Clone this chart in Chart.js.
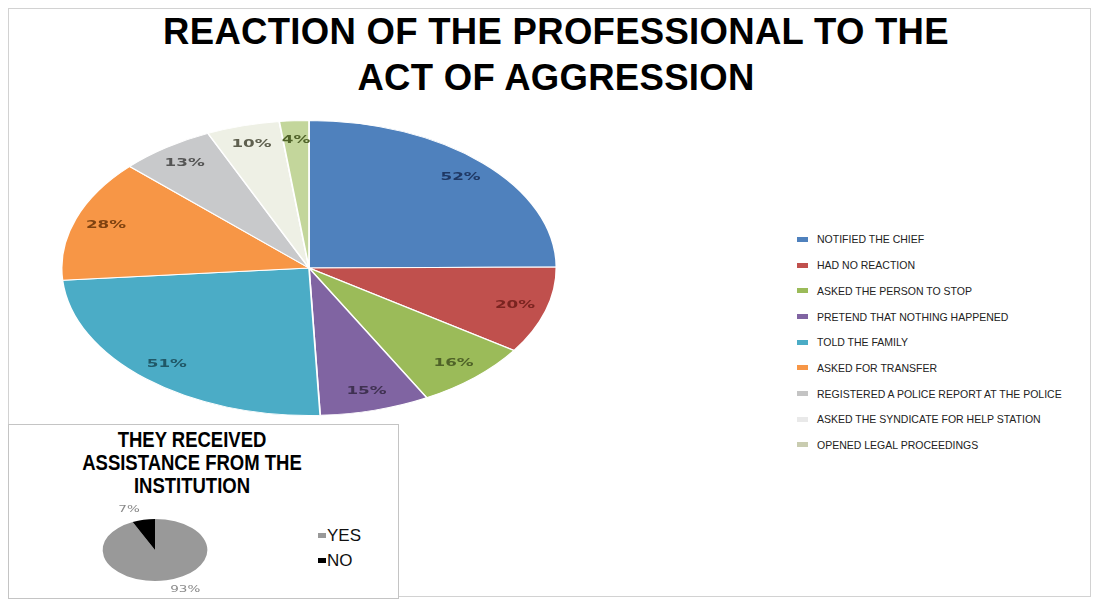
<!DOCTYPE html>
<html>
<head>
<meta charset="utf-8">
<script src="https://cdn.jsdelivr.net/npm/chart.js@4.4.1/dist/chart.umd.min.js"></script>
<style>
  html, body { margin: 0; padding: 0; background: #ffffff; }
  body { width: 1103px; height: 601px; position: relative; overflow: hidden; font-family: "Liberation Sans", Arial, sans-serif; }
  #frame { position: absolute; left: 8px; top: 8px; width: 1083px; height: 589px; border: 1px solid #d2d2d2; box-sizing: border-box; }
  #title { position: absolute; left: 0; top: 9px; width: 1112px; text-align: center; font-weight: bold; font-size: 36.5px; line-height: 46px; letter-spacing: 0.3px; color: #000; }
  #legend { position: absolute; left: 797px; top: 226.6px; }
  .li { display: flex; align-items: center; height: 25.7px; font-size: 10.5px; color: #222; white-space: nowrap; }
  .sw { width: 11px; height: 5px; margin-right: 9px; flex: none; }
  #panel { position: absolute; left: 8px; top: 424px; width: 391px; height: 175px; border: 1px solid #c4c4c4; box-sizing: border-box; background: #fff; }
  #subtitle { position: absolute; left: 0; top: 429px; width: 384px; text-align: center; font-weight: bold; font-size: 18.5px; line-height: 20px; color: #000; transform: scaleY(1.15); transform-origin: 0 0; }
  #legend2 { position: absolute; left: 318px; top: 523px; }
  .li2 { display: flex; align-items: center; height: 25px; font-size: 17px; color: #111; }
  .sw2 { width: 8px; height: 5px; margin-right: 1px; flex: none; }
  canvas { position: absolute; }
</style>
</head>
<body>
<div id="frame"></div>
<div id="title"></div>
<canvas id="main" width="500" height="296" style="left:59px;top:120px;width:500px;height:296px"></canvas>
<div id="legend"></div>
<div id="panel"></div>
<div id="subtitle"></div>
<canvas id="small" width="200" height="100" style="left:55px;top:500px;width:200px;height:100px"></canvas>
<div id="legend2"></div>
<script>
// ---------- data ----------
const titleLines = ["REACTION OF THE PROFESSIONAL TO THE", "ACT OF AGGRESSION"];
const categories = [
  "NOTIFIED THE CHIEF",
  "HAD NO REACTION",
  "ASKED THE PERSON TO STOP",
  "PRETEND THAT NOTHING HAPPENED",
  "TOLD THE FAMILY",
  "ASKED FOR TRANSFER",
  "REGISTERED A POLICE REPORT AT THE POLICE",
  "ASKED THE SYNDICATE FOR HELP STATION",
  "OPENED LEGAL PROCEEDINGS"
];
const values = [52, 20, 16, 15, 51, 28, 13, 10, 4];

const subTitleLines = ["THEY RECEIVED", "ASSISTANCE FROM THE", "INSTITUTION"];
const assistCategories = ["YES", "NO"];
const assistValues = [93, 7];

// ---------- styles ----------
const sliceColors = ["#4f81bd", "#c0504d", "#9bbb59", "#8064a2", "#4bacc6", "#f79646", "#c8c9cb", "#eef0e5", "#c3d69b"];
const legendColors = ["#4f81bd", "#c0504d", "#9bbb59", "#8064a2", "#4bacc6", "#f79646", "#c4c4c4", "#e9e9e9", "#c9ccb0"];
const labelColors = ["#1f3864", "#7a2420", "#4f6228", "#3f3151", "#205867", "#7f4210", "#555555", "#5f604f", "#4f6228"];
const assistColors = ["#999999", "#000000"];

document.getElementById('title').innerHTML = titleLines.join('<br>');
document.getElementById('subtitle').innerHTML = subTitleLines.join('<br>');

const leg = document.getElementById('legend');
categories.forEach((c, i) => {
  const d = document.createElement('div'); d.className = 'li';
  const s = document.createElement('span'); s.className = 'sw'; s.style.background = legendColors[i];
  const t = document.createElement('span'); t.textContent = c;
  d.appendChild(s); d.appendChild(t); leg.appendChild(d);
});
const leg2 = document.getElementById('legend2');
assistCategories.forEach((c, i) => {
  const d = document.createElement('div'); d.className = 'li2';
  const s = document.createElement('span'); s.className = 'sw2'; s.style.background = assistColors[i];
  const t = document.createElement('span'); t.textContent = c;
  d.appendChild(s); d.appendChild(t); leg2.appendChild(d);
});

// plugin: draws the pie as an ellipse (horizontal stretch) and writes value labels
const stretchPie = {
  id: 'stretchPie',
  beforeDatasetsDraw(chart, args, opts) {
    const arc = chart.getDatasetMeta(0).data[0];
    const ctx = chart.ctx;
    ctx.save();
    ctx.translate(arc.x, arc.y);
    ctx.scale(opts.k, 1);
    ctx.translate(-arc.x, -arc.y);
  },
  afterDatasetsDraw(chart, args, opts) {
    const ctx = chart.ctx;
    const meta = chart.getDatasetMeta(0);
    const data = chart.data.datasets[0].data;
    ctx.font = opts.font;
    ctx.textBaseline = 'middle';
    meta.data.forEach((arc, i) => {
      const mid = (arc.startAngle + arc.endAngle) / 2;
      const r = arc.outerRadius * opts.labelRadius;
      const lx = arc.x + Math.cos(mid) * r;
      const ly = arc.y + Math.sin(mid) * r;
      if (opts.sideAlign) {
        ctx.textAlign = Math.cos(mid) < 0 ? 'right' : 'left';
      } else {
        ctx.textAlign = 'center';
      }
      ctx.fillStyle = opts.colors[i];
      ctx.fillText(data[i] + '%', lx, ly);
    });
    ctx.restore();
  }
};

new Chart(document.getElementById('main'), {
  type: 'pie',
  data: {
    labels: categories,
    datasets: [{ data: values, backgroundColor: sliceColors, borderColor: '#ffffff', borderWidth: 1 }]
  },
  options: {
    responsive: false,
    maintainAspectRatio: false,
    devicePixelRatio: 1,
    animation: false,
    events: [],
    layout: { padding: 0 },
    plugins: {
      legend: { display: false },
      tooltip: { enabled: false },
      stretchPie: { k: 1.677, labelRadius: 0.87, font: 'bold 10px "DejaVu Sans"', colors: labelColors, sideAlign: false }
    }
  },
  plugins: [stretchPie]
});

new Chart(document.getElementById('small'), {
  type: 'pie',
  data: {
    labels: assistCategories,
    datasets: [{ data: assistValues, backgroundColor: assistColors, borderWidth: 0 }]
  },
  options: {
    responsive: false,
    maintainAspectRatio: false,
    devicePixelRatio: 1,
    animation: false,
    events: [],
    layout: { padding: { top: 19, bottom: 19, left: 0, right: 0 } },
    plugins: {
      legend: { display: false },
      tooltip: { enabled: false },
      stretchPie: { k: 1.69, labelRadius: 1.33, font: '8px "DejaVu Sans"', colors: ["#8a8a8a", "#8a8a8a"], sideAlign: true }
    }
  },
  plugins: [stretchPie]
});
</script>
</body>
</html>
